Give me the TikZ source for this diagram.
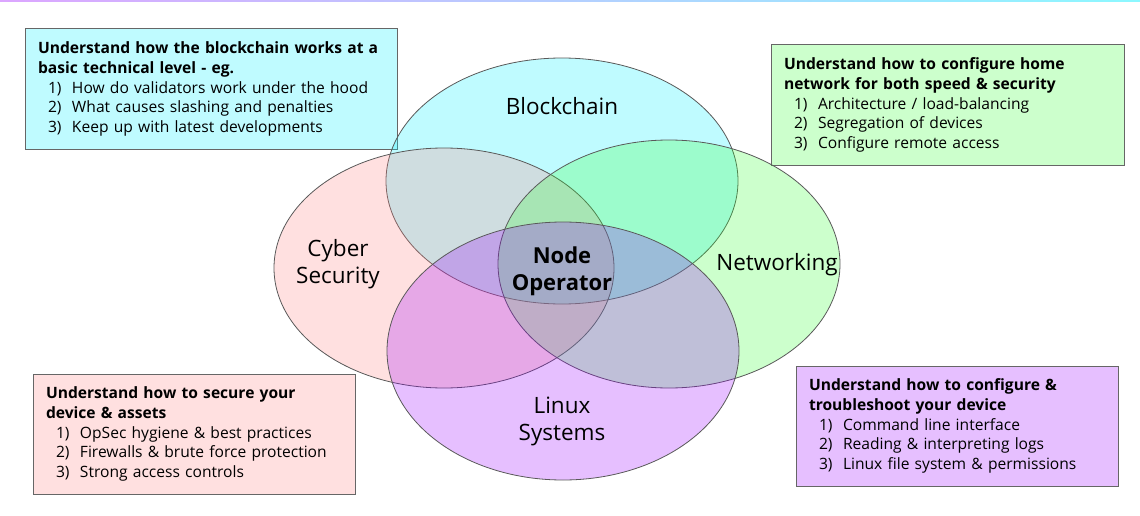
\documentclass[tikz,border=0pt]{standalone}
\usepackage{fontspec}
\setmainfont{Open Sans}
\usetikzlibrary{positioning}
\definecolor{chaincol}{RGB}{0,240,255}
\definecolor{cybercol}{RGB}{255,131,131}
\definecolor{netcol}{RGB}{51,255,51}
\definecolor{linuxcol}{RGB}{155,0,255}
\newcommand{\itm}[2]{\hspace*{10pt}\makebox[24pt][l]{#1}#2}
\begin{document}
\begin{tikzpicture}[x=1pt,y=-1pt]
  \tikzstyle{every node}=[inner sep=0pt]
  \tikzstyle{goal}=[draw=black!60,line width=1pt,align=left,inner xsep=13pt,inner ysep=0pt,minimum height=120pt,font=\fontsize{15.6}{19.6}\selectfont]
  \tikzstyle{area}=[draw=black!65,line width=0.8pt,fill opacity=0.25]
  \tikzstyle{tag}=[align=center,font=\fontsize{22.5}{27}\selectfont]
  \useasboundingbox (0,0) rectangle (1140,516);
  \shade[left color=linuxcol!35,middle color=white,right color=chaincol!45] (0,0) rectangle (1140,2);
  % what to learn
  \node[goal,fill=chaincol!25,text width=346pt] (chaingoal) at (211,89)
    {\textbf{Understand how the blockchain works at a}\\
     \textbf{basic technical level - eg.}\\
     \itm{1)}{How do validators work under the hood}\\
     \itm{2)}{What causes slashing and penalties}\\
     \itm{3)}{Keep up with latest developments}};
  \node[goal,fill=netcol!25,text width=327pt] (netgoal) at (947.5,105)
    {\textbf{Understand how to configure home}\\
     \textbf{network for both speed \& security}\\
     \itm{1)}{Architecture / load-balancing}\\
     \itm{2)}{Segregation of devices}\\
     \itm{3)}{Configure remote access}};
  \node[goal,fill=cybercol!25,text width=296pt] (cybergoal) at (194,434)
    {\textbf{Understand how to secure your}\\
     \textbf{device \& assets}\\
     \itm{1)}{OpSec hygiene \& best practices}\\
     \itm{2)}{Firewalls \& brute force protection}\\
     \itm{3)}{Strong access controls}};
  \node[goal,fill=linuxcol!25,text width=296pt] (linuxgoal) at (957,426)
    {\textbf{Understand how to configure \&}\\
     \textbf{troubleshoot your device}\\
     \itm{1)}{Command line interface}\\
     \itm{2)}{Reading \& interpreting logs}\\
     \itm{3)}{Linux file system \& permissions}};
  % the four areas
  \draw[area,fill=chaincol] (562,181) ellipse [x radius=176,y radius=123];
  \draw[area,fill=cybercol] (444,268) ellipse [x radius=170,y radius=120];
  \draw[area,fill=netcol] (669,264) ellipse [x radius=171,y radius=124];
  \draw[area,fill=linuxcol] (563,351) ellipse [x radius=176,y radius=129];
  \node[tag] (chain) at (562,106) {Blockchain};
  \node[tag] (cyber) at (338,264) {Cyber\\Security};
  \node[tag] (net) at (777,265) {Networking};
  \node[tag] (linux) at (562,421) {Linux\\Systems};
  \node[tag,font=\bfseries\fontsize{22}{27}\selectfont] (core) at (562,271) {Node\\Operator};
\end{tikzpicture}
\end{document}
